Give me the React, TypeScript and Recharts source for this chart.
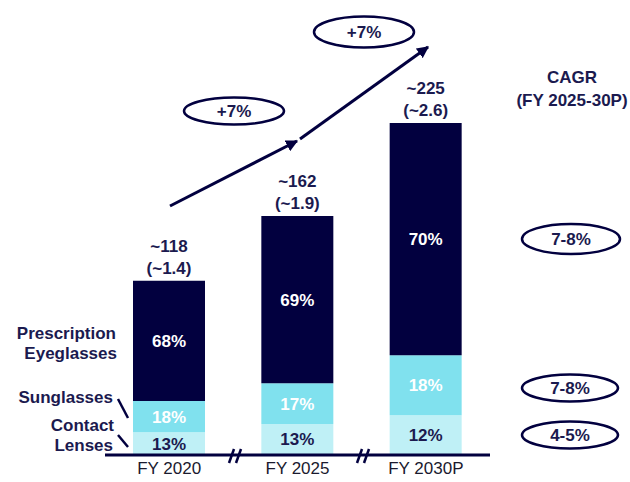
import React from 'react';
import { Bar, BarChart, LabelList, XAxis, YAxis } from 'recharts';

const categories = ['FY 2020', 'FY 2025', 'FY 2030P'];
const totals = [118, 162, 225];
const usdTotals = ['1.4', '1.9', '2.6'];
const contactShare = [13, 13, 12];
const sunShare = [18, 17, 18];
const rxShare = [68, 69, 70];
const cagrLabels = ['7-8%', '7-8%', '4-5%'];
const growthLabels = ['+7%', '+7%'];

const NAVY = '#02003f';
const TURQ = '#80e1ee';
const LIGHT = '#bff0f6';
const TEXT = '#1b1a4f';
const FONT = '"Liberation Sans", Arial, sans-serif';
const FS = 17;

const data = categories.map((name, i) => {
  const contact = (totals[i] * contactShare[i]) / 100;
  const sun = (totals[i] * sunShare[i]) / 100;
  return {
    name,
    contact,
    sun,
    rx: totals[i] - contact - sun,
    contactPct: `${contactShare[i]}%`,
    sunPct: `${sunShare[i]}%`,
    rxPct: `${rxShare[i]}%`,
    total: totals[i],
  };
});

const TotalLabel = (props: any) => {
  const { x, y, width, index } = props;
  const cx = x + width / 2;
  return (
    <g>
      <text x={cx} y={y - 29} textAnchor="middle" fontFamily={FONT} fontWeight="bold" fontSize={FS} fill={TEXT}>
        {`~${totals[index]}`}
      </text>
      <text x={cx} y={y - 7} textAnchor="middle" fontFamily={FONT} fontWeight="bold" fontSize={FS} fill={TEXT}>
        {`(~${usdTotals[index]})`}
      </text>
    </g>
  );
};

const Oval = ({ cx, cy, rx, ry, label }: any) => (
  <g>
    <ellipse cx={cx} cy={cy} rx={rx} ry={ry} fill="none" stroke={NAVY} strokeWidth={2.5} />
    <text x={cx} y={cy + 6} textAnchor="middle" fontFamily={FONT} fontWeight="bold" fontSize={FS} fill={TEXT}>
      {label}
    </text>
  </g>
);

const labelStyle = { fontFamily: FONT, fontWeight: 'bold' as const, fontSize: FS, fill: TEXT };

export default function App() {
  return (
    <div style={{ position: 'absolute', left: 0, top: 0, width: 630, height: 482, background: '#fff' }}>
      <BarChart
        width={630}
        height={482}
        data={data}
        margin={{ top: 86, right: 140, bottom: 0, left: 105 }}
      >
        <XAxis
          dataKey="name"
          height={27}
          axisLine={{ stroke: NAVY, strokeWidth: 3 }}
          tickLine={false}
          tick={{ fill: '#1a1a2e', fontFamily: FONT, fontSize: FS }}
          tickMargin={1}
        />
        <YAxis hide domain={[0, 250]} />
        <Bar dataKey="contact" stackId="a" fill={LIGHT} barSize={72} isAnimationActive={false}>
          <LabelList dataKey="contactPct" position="center" fill={TEXT} fontFamily={FONT} fontWeight="bold" fontSize={FS} />
        </Bar>
        <Bar dataKey="sun" stackId="a" fill={TURQ} barSize={72} isAnimationActive={false}>
          <LabelList dataKey="sunPct" position="center" fill="#ffffff" fontFamily={FONT} fontWeight="bold" fontSize={FS} />
        </Bar>
        <Bar dataKey="rx" stackId="a" fill={NAVY} barSize={72} isAnimationActive={false}>
          <LabelList dataKey="rxPct" position="center" fill="#ffffff" fontFamily={FONT} fontWeight="bold" fontSize={FS} />
          <LabelList dataKey="total" content={TotalLabel} />
        </Bar>
      </BarChart>

      <svg width={630} height={482} style={{ position: 'absolute', left: 0, top: 0, pointerEvents: 'none' }}>
        <defs>
          <marker id="head" viewBox="0 0 10 10" refX="9" refY="5" markerWidth="4" markerHeight="4" orient="auto">
            <path d="M0,0 L10,5 L0,10 z" fill={NAVY} />
          </marker>
        </defs>
        {/* growth arrows */}
        <line x1={170} y1={206} x2={297} y2={141} stroke={NAVY} strokeWidth={3} markerEnd="url(#head)" />
        <line x1={300} y1={139} x2={428} y2={47} stroke={NAVY} strokeWidth={3} markerEnd="url(#head)" />
        <Oval cx={234} cy={111} rx={50} ry={13.5} label={growthLabels[0]} />
        <Oval cx={364} cy={32} rx={50} ry={15.5} label={growthLabels[1]} />

        {/* CAGR column */}
        <text x={572} y={83} textAnchor="middle" {...labelStyle}>CAGR</text>
        <text x={572} y={106} textAnchor="middle" {...labelStyle}>(FY 2025-30P)</text>
        <Oval cx={571} cy={239} rx={49} ry={15} label={cagrLabels[0]} />
        <Oval cx={570} cy={388} rx={48} ry={13.5} label={cagrLabels[1]} />
        <Oval cx={570} cy={435} rx={48} ry={13.5} label={cagrLabels[2]} />

        {/* segment names */}
        <text x={116} y={339} textAnchor="end" {...labelStyle}>Prescription</text>
        <text x={117} y={359} textAnchor="end" {...labelStyle}>Eyeglasses</text>
        <text x={113} y={403} textAnchor="end" {...labelStyle}>Sunglasses</text>
        <text x={114} y={431} textAnchor="end" {...labelStyle}>Contact</text>
        <text x={113} y={451} textAnchor="end" {...labelStyle}>Lenses</text>
        <line x1={118} y1={399} x2={128} y2={418} stroke={NAVY} strokeWidth={2.5} />
        <line x1={118} y1={435} x2={128} y2={447} stroke={NAVY} strokeWidth={2.5} />

        {/* axis breaks */}
        {[235, 363].map((bx) => (
          <g key={bx}>
            <line x1={bx - 6} y1={463} x2={bx - 1} y2={449} stroke={NAVY} strokeWidth={2.5} />
            <line x1={bx + 1} y1={463} x2={bx + 6} y2={449} stroke={NAVY} strokeWidth={2.5} />
          </g>
        ))}
      </svg>
    </div>
  );
}
